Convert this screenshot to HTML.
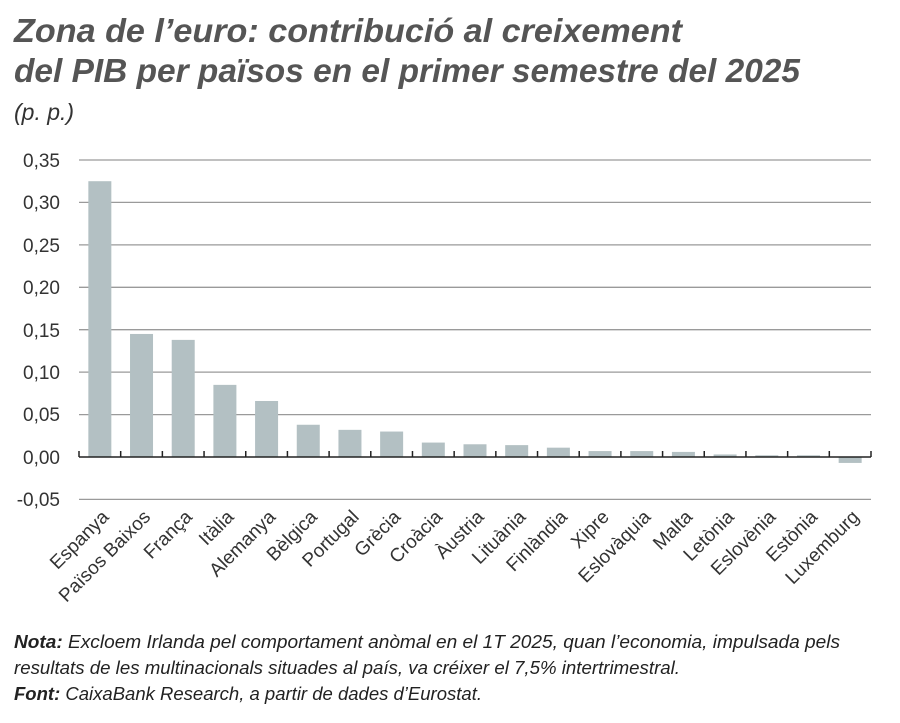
<!DOCTYPE html>
<html><head><meta charset="utf-8"><style>
body{margin:0;background:#fff;width:900px;height:718px;overflow:hidden;font-family:"Liberation Sans",sans-serif;}
</style></head><body>
<svg width="900" height="718" xmlns="http://www.w3.org/2000/svg" font-family="Liberation Sans, sans-serif">
<text x="14" y="42" font-size="33" font-weight="bold" font-style="italic" fill="#555" textLength="668" lengthAdjust="spacingAndGlyphs">Zona de l’euro: contribució al creixement</text>
<text x="14" y="82" font-size="33" font-weight="bold" font-style="italic" fill="#555" textLength="786" lengthAdjust="spacingAndGlyphs">del PIB per països en el primer semestre del 2025</text>
<text x="14" y="120" font-size="23" font-style="italic" fill="#333">(p. p.)</text>
<g stroke="#9a9a9a" stroke-width="1.3">
<line x1="79" x2="871" y1="160" y2="160"/><line x1="79" x2="871" y1="202.4" y2="202.4"/>
<line x1="79" x2="871" y1="244.9" y2="244.9"/><line x1="79" x2="871" y1="287.3" y2="287.3"/>
<line x1="79" x2="871" y1="329.7" y2="329.7"/><line x1="79" x2="871" y1="372.1" y2="372.1"/>
<line x1="79" x2="871" y1="414.6" y2="414.6"/><line x1="79" x2="871" y1="499.4" y2="499.4"/>
</g>
<g font-size="19" fill="#333" text-anchor="end">
<text x="60" y="167">0,35</text><text x="60" y="209">0,30</text><text x="60" y="252">0,25</text>
<text x="60" y="294">0,20</text><text x="60" y="337">0,15</text><text x="60" y="379">0,10</text>
<text x="60" y="421">0,05</text><text x="60" y="464">0,00</text><text x="60" y="506">-0,05</text>
</g>
<g id="bars" fill="#b3c0c3"></g>
<g id="labels" font-size="19" fill="#333" text-anchor="end"></g>
<line x1="79" x2="871" y1="457" y2="457" stroke="#222" stroke-width="1.5"/>
<g id="ticks" stroke="#222" stroke-width="1.5"></g>
<text x="14" y="648" font-size="18.5" font-style="italic" fill="#222" textLength="826" lengthAdjust="spacingAndGlyphs"><tspan font-weight="bold">Nota:</tspan> Excloem Irlanda pel comportament anòmal en el 1T 2025, quan l’economia, impulsada pels</text>
<text x="14" y="674" font-size="18.5" font-style="italic" fill="#222" textLength="666" lengthAdjust="spacingAndGlyphs">resultats de les multinacionals situades al país, va créixer el 7,5% intertrimestral.</text>
<text x="14" y="700" font-size="18.5" font-style="italic" fill="#222" textLength="468" lengthAdjust="spacingAndGlyphs"><tspan font-weight="bold">Font:</tspan> CaixaBank Research, a partir de dades d’Eurostat.</text>
</svg>
<script>
var n=["Espanya","Països Baixos","França","Itàlia","Alemanya","Bèlgica","Portugal","Grècia","Croàcia","Àustria","Lituània","Finlàndia","Xipre","Eslovàquia","Malta","Letònia","Eslovènia","Estònia","Luxemburg"];
var v=[0.325,0.145,0.138,0.085,0.066,0.038,0.032,0.030,0.017,0.015,0.014,0.011,0.007,0.007,0.006,0.003,0.002,0.002,-0.007];
var ns="http://www.w3.org/2000/svg",w=792/19,s=848.6,b=document.getElementById("bars"),l=document.getElementById("labels"),t=document.getElementById("ticks");
for(var i=0;i<19;i++){var c=79+w*(i+0.5);var r=document.createElementNS(ns,"rect");var h=v[i]*s;
r.setAttribute("x",c-11.5);r.setAttribute("width",23);r.setAttribute("y",h>0?457-h:457);r.setAttribute("height",Math.abs(h));b.appendChild(r);
var x=document.createElementNS(ns,"text");x.setAttribute("transform","translate("+(c+10)+",518) rotate(-45)");x.textContent=n[i];l.appendChild(x);}
for(var i=0;i<=19;i++){var k=document.createElementNS(ns,"line");var xx=79+w*i;k.setAttribute("x1",xx);k.setAttribute("x2",xx);k.setAttribute("y1",451);k.setAttribute("y2",457);t.appendChild(k);}
</script>
</body></html>
